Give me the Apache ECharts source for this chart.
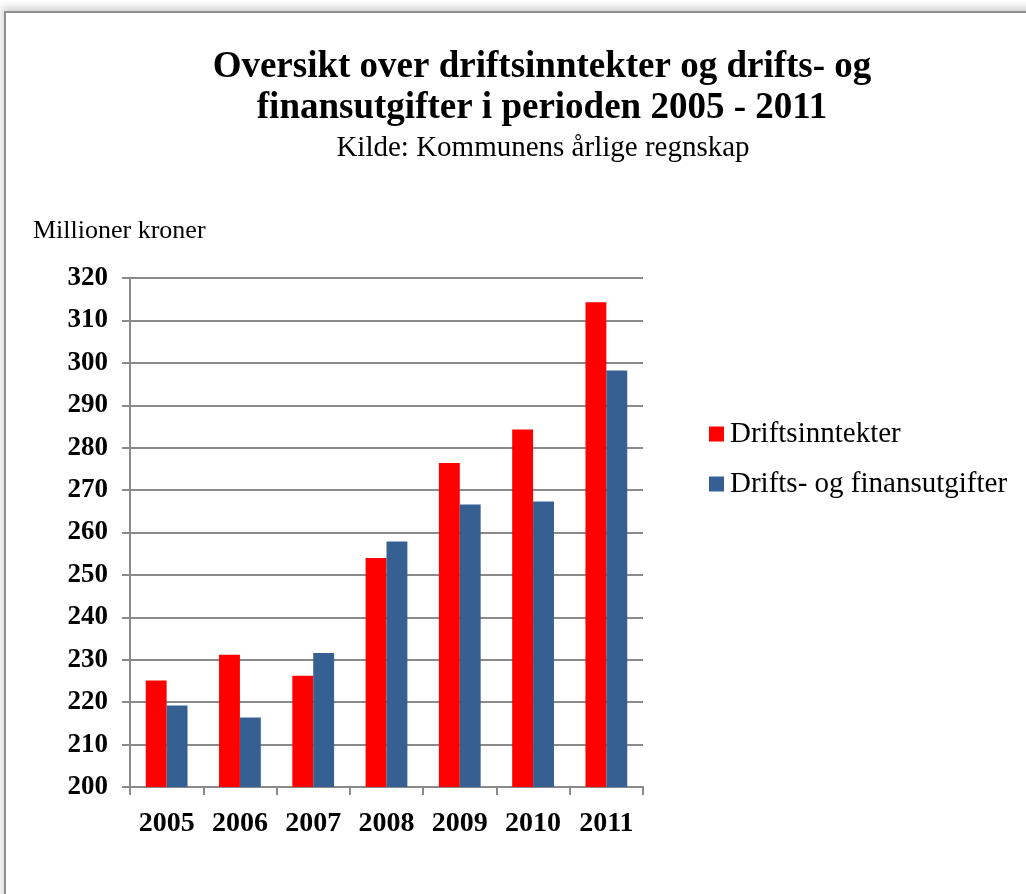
<!DOCTYPE html>
<html>
<head>
<meta charset="utf-8">
<script src="https://cdn.jsdelivr.net/npm/echarts@6/dist/echarts.min.js"></script>
<style>
  html, body { margin: 0; padding: 0; background: #fff; }
  #chart { position: absolute; left: 0; top: 0; width: 1026px; height: 894px; }
  .frame {
    position: absolute; left: 4px; top: 11px; width: 1200px; height: 1000px;
    border-top: 2px solid #8f8f8f; border-left: 2px solid #8f8f8f;
    box-shadow: -2px -4px 8px rgba(0,0,0,0.18);
    pointer-events: none;
  }
</style>
</head>
<body>
<div id="chart"></div>
<div class="frame"></div>
<script>
// data
const years = ['2005', '2006', '2007', '2008', '2009', '2010', '2011']
const inntekter = [225.1, 231.2, 226.2, 254.0, 276.4, 284.3, 314.3]
const utgifter = [219.2, 216.4, 231.6, 257.9, 266.6, 267.3, 298.2]
const seriesNames = ['Driftsinntekter', 'Drifts- og finansutgifter']

const serif = '"Liberation Serif", "Times New Roman", serif'
const gray = '#8a8a8a'

const myChart = echarts.init(document.getElementById('chart'))

const option = {
  backgroundColor: '#fff',
  animation: false,
  title: [
    {
      text: 'Oversikt over driftsinntekter og drifts- og\nfinansutgifter i perioden 2005 - 2011',
      left: 537,
      top: 42,
      textAlign: 'center',
      textStyle: { fontFamily: serif, fontSize: 37, fontWeight: 'bold', color: '#000', lineHeight: 41 }
    },
    {
      text: 'Kilde: Kommunens årlige regnskap',
      left: 538,
      top: 128,
      textAlign: 'center',
      textStyle: { fontFamily: serif, fontSize: 29, fontWeight: 'normal', color: '#000', lineHeight: 30 }
    },
    {
      text: 'Millioner kroner',
      left: 28,
      top: 212,
      textStyle: { fontFamily: serif, fontSize: 26, fontWeight: 'normal', color: '#000', lineHeight: 28 }
    }
  ],
  legend: {
    orient: 'vertical',
    left: 704,
    top: 414,
    itemWidth: 15,
    itemHeight: 15,
    itemGap: 20,
    icon: 'rect',
    data: seriesNames,
    textStyle: { fontFamily: serif, fontSize: 29, color: '#000', lineHeight: 30, padding: [0, 0, 0, 1] }
  },
  grid: {
    left: 130,
    right: 383,
    top: 278,
    bottom: 107
  },
  xAxis: {
    type: 'category',
    data: years,
    axisLine: { lineStyle: { color: gray, width: 2 } },
    axisTick: { show: true, length: 8, lineStyle: { color: gray, width: 2 } },
    axisLabel: { fontFamily: serif, fontSize: 28, fontWeight: 'bold', color: '#000', margin: 23 }
  },
  yAxis: {
    type: 'value',
    min: 200,
    max: 320,
    interval: 10,
    axisLine: { show: true, lineStyle: { color: gray, width: 2 } },
    axisTick: { show: true, length: 8, lineStyle: { color: gray, width: 2 } },
    axisLabel: { fontFamily: serif, fontSize: 27, fontWeight: 'bold', color: '#000', margin: 22 },
    splitLine: { lineStyle: { color: gray, width: 2 } }
  },
  series: [
    {
      name: seriesNames[0],
      type: 'bar',
      data: inntekter,
      barGap: '0%',
      barCategoryGap: '43%',
      itemStyle: { color: '#ff0000' }
    },
    {
      name: seriesNames[1],
      type: 'bar',
      data: utgifter,
      itemStyle: { color: '#376092' }
    }
  ]
}

myChart.setOption(option)
</script>
</body>
</html>
